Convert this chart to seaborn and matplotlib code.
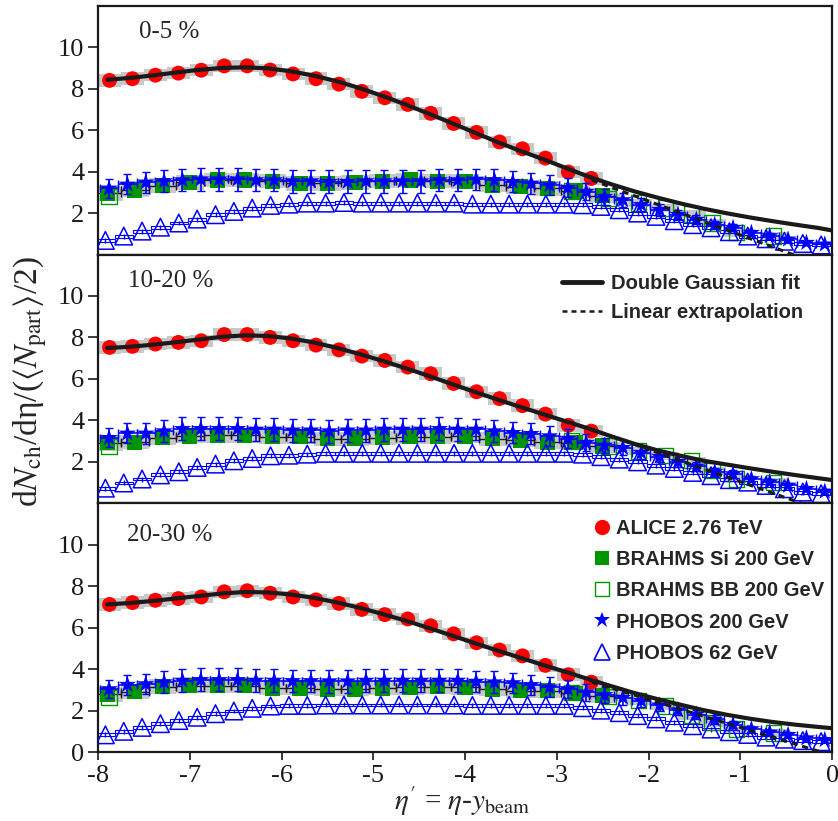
import numpy as np
import matplotlib
matplotlib.use('Agg')
import matplotlib.pyplot as plt
import seaborn as sns
from matplotlib.lines import Line2D

# ---------------- data (eta' = eta - y_beam) ----------------
centralities = ["0-5 %", "10-20 %", "20-30 %"]

alice_x = [-7.875, -7.625, -7.375, -7.125, -6.875, -6.625, -6.375, -6.125, -5.875, -5.625, -5.375,
           -5.125, -4.875, -4.625, -4.375, -4.125, -3.875, -3.625, -3.375, -3.125, -2.875, -2.625]
alice_y = [
    [8.40, 8.48, 8.65, 8.75, 8.89, 9.10, 9.10, 8.90, 8.71, 8.48, 8.22,
     7.87, 7.56, 7.24, 6.81, 6.32, 5.89, 5.43, 5.10, 4.65, 3.98, 3.67],
    [7.52, 7.57, 7.68, 7.76, 7.84, 8.14, 8.14, 8.00, 7.84, 7.63, 7.40,
     7.10, 6.89, 6.57, 6.25, 5.78, 5.38, 5.05, 4.71, 4.30, 3.76, 3.48],
    [7.12, 7.21, 7.32, 7.40, 7.48, 7.73, 7.78, 7.66, 7.48, 7.34, 7.17,
     6.88, 6.63, 6.42, 6.09, 5.70, 5.27, 4.92, 4.64, 4.18, 3.73, 3.37],
]

fit_x = [-7.9, -7.65, -7.4, -7.15, -6.9, -6.65, -6.4, -6.15, -5.9, -5.65, -5.4, -5.15, -4.9, -4.65,
         -4.4, -4.15, -3.9, -3.65, -3.4, -3.15, -2.9, -2.65, -2.4, -2.15, -1.9, -1.65, -1.4, -1.15,
         -0.9, -0.65, -0.4, -0.15, 0.0]
fit_y = [
    [8.43, 8.52, 8.64, 8.78, 8.91, 9.00, 9.03, 8.98, 8.84, 8.63, 8.36, 8.03, 7.65, 7.24,
     6.80, 6.35, 5.89, 5.43, 5.00, 4.60, 4.17, 3.75, 3.38, 3.04, 2.74, 2.46, 2.21, 1.99,
     1.79, 1.61, 1.44, 1.28, 1.16],
    [7.49, 7.55, 7.65, 7.77, 7.90, 8.03, 8.10, 8.07, 7.95, 7.76, 7.50, 7.20, 6.87, 6.52,
     6.15, 5.76, 5.38, 5.01, 4.65, 4.30, 3.95, 3.60, 3.22, 2.86, 2.55, 2.29, 2.05, 1.87,
     1.69, 1.52, 1.36, 1.21, 1.12],
    [7.12, 7.19, 7.29, 7.41, 7.53, 7.65, 7.72, 7.70, 7.60, 7.44, 7.22, 6.96, 6.66, 6.34,
     5.99, 5.63, 5.26, 4.90, 4.55, 4.20, 3.86, 3.51, 3.17, 2.84, 2.55, 2.28, 2.02, 1.80,
     1.61, 1.45, 1.32, 1.21, 1.15],
]

# linear extrapolation: start and end points
lin_x = [-2.62, 0.0]
lin_y = [[3.59, -0.70], [3.56, -0.52], [3.37, -0.16]]

brahms_si_x = [-7.9, -7.6, -7.3, -7.0, -6.7, -6.4, -6.1, -5.8, -5.5, -5.2, -4.9, -4.6, -4.3,
               -4.0, -3.7, -3.4, -3.1, -2.8, -2.5]
brahms_si_y = [
    [2.95, 3.11, 3.32, 3.48, 3.59, 3.59, 3.54, 3.43, 3.43, 3.48, 3.54, 3.59, 3.54,
     3.51, 3.35, 3.27, 3.19, 3.06, 2.84],
    [2.92, 2.95, 3.16, 3.24, 3.27, 3.27, 3.21, 3.21, 3.11, 3.11, 3.16, 3.21, 3.21,
     3.24, 3.11, 3.05, 2.95, 2.92, 2.76],
    [2.79, 2.92, 3.15, 3.20, 3.20, 3.20, 3.09, 3.09, 3.04, 3.04, 3.09, 3.12, 3.15,
     3.12, 3.04, 2.96, 2.96, 2.84, 2.71],
]

brahms_bb_x = [-7.88, -2.84, -2.44, -2.11, -1.82, -1.53, -1.31, -1.04, -0.64]
brahms_bb_y = [
    [2.79, 3.06, 2.71, 2.48, 2.24, 1.95, 1.52, 1.05, 0.89],
    [2.73, 3.00, 2.76, 2.52, 2.29, 2.05, 1.57, 1.17, 1.02],
    [2.63, 2.88, 2.68, 2.47, 2.22, 1.76, 1.41, 1.11, 0.92],
]

phobos200_x = [-7.88, -7.68, -7.48, -7.28, -7.08, -6.88, -6.68, -6.48, -6.28, -6.08,
               -5.88, -5.68, -5.48, -5.28, -5.08, -4.88, -4.68, -4.48, -4.28, -4.08,
               -3.88, -3.68, -3.48, -3.28, -3.08, -2.88, -2.68, -2.48, -2.28, -2.08,
               -1.88, -1.68, -1.48, -1.28, -1.08, -0.88, -0.68, -0.48, -0.28, -0.08]
phobos200_y = [
    [3.19, 3.38, 3.48, 3.54, 3.59, 3.63, 3.63, 3.63, 3.59, 3.59, 3.54, 3.54, 3.51, 3.51,
     3.54, 3.54, 3.54, 3.54, 3.59, 3.59, 3.62, 3.59, 3.51, 3.43, 3.35, 3.22, 3.03, 2.79,
     2.63, 2.40, 2.16, 1.92, 1.68, 1.44, 1.29, 1.05, 0.89, 0.73, 0.57, 0.49],
    [3.16, 3.37, 3.37, 3.48, 3.59, 3.59, 3.59, 3.59, 3.56, 3.56, 3.52, 3.52, 3.48, 3.52,
     3.52, 3.56, 3.56, 3.56, 3.59, 3.56, 3.56, 3.48, 3.40, 3.35, 3.24, 3.11, 2.92, 2.79,
     2.68, 2.44, 2.25, 2.00, 1.78, 1.52, 1.41, 1.17, 1.02, 0.86, 0.70, 0.57],
    [3.04, 3.25, 3.28, 3.37, 3.45, 3.48, 3.48, 3.48, 3.45, 3.45, 3.43, 3.43, 3.42, 3.42,
     3.45, 3.45, 3.45, 3.45, 3.45, 3.45, 3.40, 3.37, 3.33, 3.24, 3.12, 3.04, 2.88, 2.75,
     2.63, 2.47, 2.25, 2.02, 1.81, 1.57, 1.32, 1.11, 0.95, 0.83, 0.67, 0.59],
]
phobos200_err = [0.45, 0.48, 0.50, 0.52, 0.55, 0.55, 0.55, 0.55, 0.55, 0.55, 0.55, 0.55, 0.55,
                 0.55, 0.55, 0.55, 0.55, 0.55, 0.55, 0.55, 0.52, 0.52, 0.50, 0.50, 0.48, 0.45,
                 0.42, 0.38, 0.35, 0.32, 0.28, 0.25, 0.22, 0.20, 0.18, 0.15, 0.13, 0.12, 0.10, 0.10]

phobos62_x = [-7.92, -7.72, -7.52, -7.32, -7.12, -6.92, -6.72, -6.52, -6.32, -6.12,
              -5.92, -5.72, -5.52, -5.32, -5.12, -4.92, -4.72, -4.52, -4.32, -4.12,
              -3.92, -3.72, -3.52, -3.32, -3.12, -2.92, -2.72, -2.52, -2.32, -2.12,
              -1.92, -1.72, -1.52, -1.32, -1.12, -0.92, -0.72, -0.52, -0.32, -0.12]
phobos62_y = [
    [0.68, 0.89, 1.13, 1.32, 1.52, 1.71, 1.92, 2.08, 2.24, 2.37, 2.43, 2.48, 2.48, 2.51,
     2.48, 2.48, 2.48, 2.48, 2.48, 2.48, 2.43, 2.43, 2.43, 2.43, 2.43, 2.43, 2.40, 2.32,
     2.16, 2.00, 1.84, 1.63, 1.44, 1.29, 1.10, 0.89, 0.76, 0.64, 0.53, 0.46],
    [0.73, 0.98, 1.17, 1.37, 1.52, 1.73, 1.89, 2.05, 2.16, 2.29, 2.32, 2.37, 2.41, 2.41,
     2.41, 2.41, 2.41, 2.41, 2.41, 2.41, 2.41, 2.41, 2.41, 2.41, 2.41, 2.41, 2.37, 2.25,
     2.13, 2.00, 1.84, 1.68, 1.49, 1.33, 1.14, 1.02, 0.86, 0.70, 0.54, 0.46],
    [0.83, 1.00, 1.19, 1.37, 1.52, 1.68, 1.85, 1.98, 2.11, 2.22, 2.25, 2.25, 2.27, 2.27,
     2.27, 2.27, 2.27, 2.27, 2.27, 2.27, 2.25, 2.25, 2.25, 2.25, 2.25, 2.25, 2.14, 2.02,
     1.90, 1.76, 1.60, 1.44, 1.27, 1.11, 0.98, 0.85, 0.72, 0.62, 0.55, 0.50],
]

x_ticks = [-8, -7, -6, -5, -4, -3, -2, -1, 0]
x_ticklabels = ["-8", "-7", "-6", "-5", "-4", "-3", "-2", "-1", "0"]

RED, GREEN, BLUE, GRAY = "#ff0000", "#009600", "#0000ff", "#c8c8c8"

sns.set_theme(style="ticks")
plt.rcParams["font.family"] = ["Liberation Serif", "DejaVu Serif"]
plt.rcParams["mathtext.fontset"] = "stix"
plt.rcParams["axes.linewidth"] = 1.6

fig, axes = plt.subplots(3, 1, sharex=True, figsize=(8.38, 8.21), dpi=100)
fig.subplots_adjust(left=0.117, right=0.993, top=0.993, bottom=0.084, hspace=0)


def gray_boxes(ax, x, y, half_h, width):
    y = np.asarray(y)
    ax.bar(x, 2 * half_h, bottom=y - half_h, width=width, color=GRAY, lw=0, zorder=1)


for i, ax in enumerate(axes):
    # systematic boxes
    gray_boxes(ax, alice_x, alice_y[i], 0.3, 0.25)
    gray_boxes(ax, brahms_si_x, brahms_si_y[i], 0.35, 0.3)
    gray_boxes(ax, brahms_bb_x, brahms_bb_y[i], 0.2, 0.3)
    p62 = np.asarray(phobos62_y[i])
    ax.bar(phobos62_x, 0.14, bottom=p62 - 0.07, width=0.2, fill=False,
           edgecolor=BLUE, lw=0.8, zorder=2)

    # error bars
    ax.errorbar(brahms_si_x, brahms_si_y[i], xerr=0.15, fmt="none", ecolor="k",
                elinewidth=1, capsize=3, zorder=2)
    ax.errorbar(phobos62_x, phobos62_y[i], yerr=0.12, fmt="none", ecolor=BLUE,
                elinewidth=1, capsize=0, zorder=3)
    ax.errorbar(phobos200_x, phobos200_y[i], xerr=0.1, yerr=phobos200_err, fmt="none",
                ecolor=BLUE, elinewidth=1.2, capsize=3, zorder=5)

    # markers
    sns.scatterplot(x=alice_x, y=alice_y[i], ax=ax, marker="o", s=115, color=RED,
                    edgecolor="none", zorder=4, legend=False)
    sns.scatterplot(x=brahms_si_x, y=brahms_si_y[i], ax=ax, marker="s", s=120, color=GREEN,
                    edgecolor="none", zorder=3, legend=False)
    sns.scatterplot(x=brahms_bb_x, y=brahms_bb_y[i], ax=ax, marker="s", s=120, color=GREEN,
                    facecolor="none", edgecolor=GREEN, linewidth=1.0, zorder=3, legend=False)
    sns.scatterplot(x=phobos62_x, y=phobos62_y[i], ax=ax, marker="^", s=160, color=BLUE,
                    facecolor="none", edgecolor=BLUE, linewidth=1.1, zorder=4, legend=False)
    sns.scatterplot(x=phobos200_x, y=phobos200_y[i], ax=ax, marker="*", s=170, color=BLUE,
                    edgecolor="none", zorder=6, legend=False)

    # fit + extrapolation
    sns.lineplot(x=fit_x, y=fit_y[i], ax=ax, color="k", lw=3, sort=False,
                 estimator=None, zorder=7)
    ax.plot(lin_x, lin_y[i], color="k", lw=2.2, ls=(0, (2, 1.6)), zorder=7)

    ax.set_xlim(-8, 0)
    ax.set_ylim(0, 12)
    ax.set_yticks([0, 2, 4, 6, 8, 10] if i == 2 else [2, 4, 6, 8, 10])
    ax.tick_params(axis="both", direction="out", length=7, width=1.2, labelsize=19,
                   colors="k", pad=3)
    ax.tick_params(axis="x", length=6)
    for sp in ax.spines.values():
        sp.set_visible(True)
        sp.set_color("k")
        sp.set_linewidth(1.6)
    ax.set_xlabel("")
    ax.set_ylabel("")

axes[0].text(0.056, 0.896, centralities[0], transform=axes[0].transAxes, fontsize=18,
             va="center", ha="left")
axes[1].text(0.041, 0.892, centralities[1], transform=axes[1].transAxes, fontsize=18,
             va="center", ha="left")
axes[2].text(0.039, 0.873, centralities[2], transform=axes[2].transAxes, fontsize=18,
             va="center", ha="left")

axes[2].set_xticks(x_ticks)
axes[2].set_xticklabels(x_ticklabels)

legend_font = dict(family="Liberation Sans", weight="bold", size=14.5)

h1 = [Line2D([], [], color="k", lw=3.5),
      Line2D([], [], color="k", lw=1.8, ls=(0, (2, 1.6)))]
axes[1].legend(h1, ["Double Gaussian fit", "Linear extrapolation"], loc="upper right",
               bbox_to_anchor=(0.972, 0.955), borderaxespad=0, frameon=False, prop=legend_font,
               handlelength=2.0, handletextpad=0.45, labelspacing=0.5)

h2 = [Line2D([], [], marker="o", ls="none", color=RED, markersize=11, markeredgewidth=0),
      Line2D([], [], marker="s", ls="none", color=GREEN, markersize=10.5, markeredgewidth=0),
      Line2D([], [], marker="s", ls="none", markerfacecolor="none", markeredgecolor=GREEN,
             markersize=10.5, markeredgewidth=1),
      Line2D([], [], marker="*", ls="none", color=BLUE, markersize=12, markeredgewidth=0),
      Line2D([], [], marker="^", ls="none", markerfacecolor="none", markeredgecolor=BLUE,
             markersize=12, markeredgewidth=1.2)]
axes[2].legend(h2, ["ALICE 2.76 TeV", "BRAHMS Si 200 GeV", "BRAHMS BB 200 GeV",
                    "PHOBOS 200 GeV", "PHOBOS 62 GeV"], loc="upper right",
               bbox_to_anchor=(1.0, 0.968), borderaxespad=0, frameon=False, prop=legend_font,
               handlelength=0.8, handletextpad=0.3, labelspacing=0.6)

fig.text(0.036, 0.535, r"d$N_{\rm ch}$/dη/($\langle N_{\rm part} \rangle$/2)",
         rotation=90, ha="center", va="center", fontsize=24)
fig.text(0.551, 0.024, r"$\eta'$ = $\eta$-$y_{\rm beam}$", ha="center", va="center",
         fontsize=21)

fig.savefig("out.png", dpi=100)
